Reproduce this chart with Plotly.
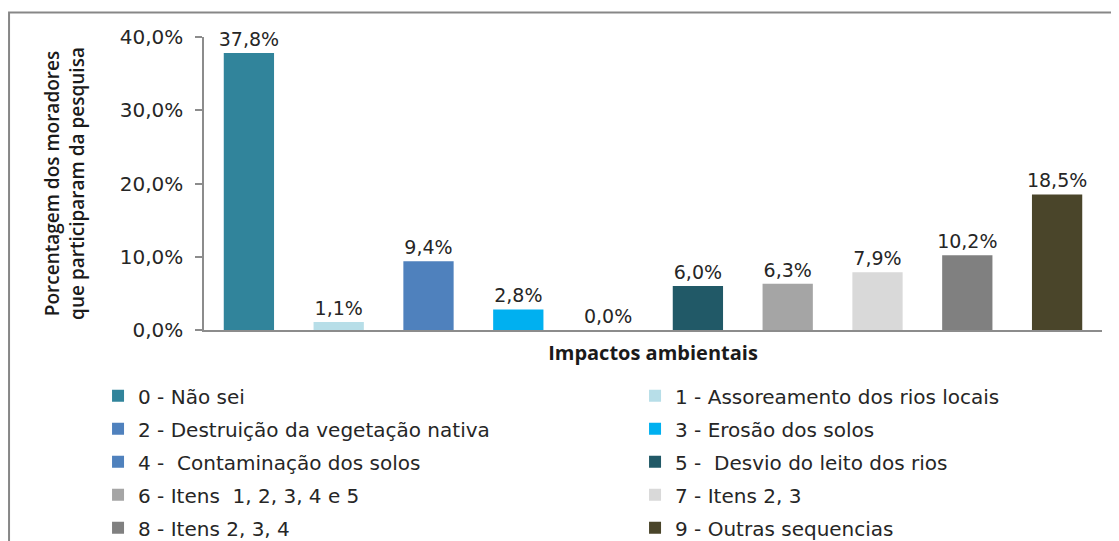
import plotly.graph_objects as go

categories = [
    "0 - Não sei",
    "1 - Assoreamento dos rios locais",
    "2 - Destruição da vegetação nativa",
    "3 - Erosão dos solos",
    "4 -  Contaminação dos solos",
    "5 -  Desvio do leito dos rios",
    "6 - Itens  1, 2, 3, 4 e 5",
    "7 - Itens 2, 3",
    "8 - Itens 2, 3, 4",
    "9 - Outras sequencias",
]
values = [37.8, 1.1, 9.4, 2.8, 0.0, 6.0, 6.3, 7.9, 10.2, 18.5]
colors = ["#31849B", "#B7DEE8", "#4F81BD", "#00B0F0", "#4F81BD",
          "#215967", "#A5A5A5", "#D9D9D9", "#808080", "#4A452A"]
y_ticks = [0, 10, 20, 30, 40]
y_tick_labels = ["0,0%", "10,0%", "20,0%", "30,0%", "40,0%"]

FONT = "DejaVu Sans"

fig = go.Figure()
for i, (cat, val, col) in enumerate(zip(categories, values, colors)):
    fig.add_trace(go.Bar(
        x=[str(i)], y=[val], name=cat,
        marker=dict(color=col, line=dict(width=0)),
        width=0.56,
        text=[f"{val:.1f}%".replace(".", ",")],
        textposition="outside",
        constraintext="none",
        textfont=dict(family=FONT, size=19, color="#262626"),
        cliponaxis=False,
        legend="legend" if i % 2 == 0 else "legend2",
        legendgroup=f"g{i}",
        showlegend=True,
    ))

fig.update_layout(
    width=1111, height=533,
    paper_bgcolor="white", plot_bgcolor="white",
    margin=dict(l=196, r=17, t=29, b=211, autoexpand=False),
    barmode="overlay",
    font=dict(family=FONT, color="#262626"),
    xaxis=dict(
        type="category", range=[-0.5, 9.5],
        showticklabels=False, ticks="",
        showline=True, linecolor="#8C8C8C", linewidth=1.5,
        showgrid=False, zeroline=False,
        title=dict(text="<b>Impactos ambientais</b>", standoff=15,
                   font=dict(family="Open Sans", size=20, color="#1a1a1a")),
    ),
    yaxis=dict(
        range=[0, 40], tickvals=y_ticks, ticktext=y_tick_labels,
        ticks="outside", ticklen=7, tickcolor="#8C8C8C", tickwidth=1.5,
        ticklabelstandoff=8,
        showline=True, linecolor="#8C8C8C", linewidth=1.5,
        showgrid=False, zeroline=False,
        tickfont=dict(family=FONT, size=20, color="#262626"),
        title=dict(text="Porcentagem dos moradores<br>que participaram da pesquisa",
                   standoff=30,
                   font=dict(family="Open Sans", size=19, weight=600, color="#1a1a1a")),
    ),
    legend=dict(
        x=-0.118, xanchor="left", y=-0.158, yanchor="top",
        orientation="v", tracegroupgap=4,
        font=dict(family=FONT, size=20, color="#262626"),
        bgcolor="rgba(0,0,0,0)",
    ),
    legend2=dict(
        x=0.480, xanchor="left", y=-0.158, yanchor="top",
        orientation="v", tracegroupgap=4,
        font=dict(family=FONT, size=20, color="#262626"),
        bgcolor="rgba(0,0,0,0)",
    ),
    shapes=[dict(
        type="rect", xref="paper", yref="paper",
        x0=-0.2171, x1=1.05, y0=-0.9, y1=1.0836,
        line=dict(color="#878787", width=2), fillcolor="rgba(0,0,0,0)",
        layer="below",
    )],
)

fig.write_html("out.html")
